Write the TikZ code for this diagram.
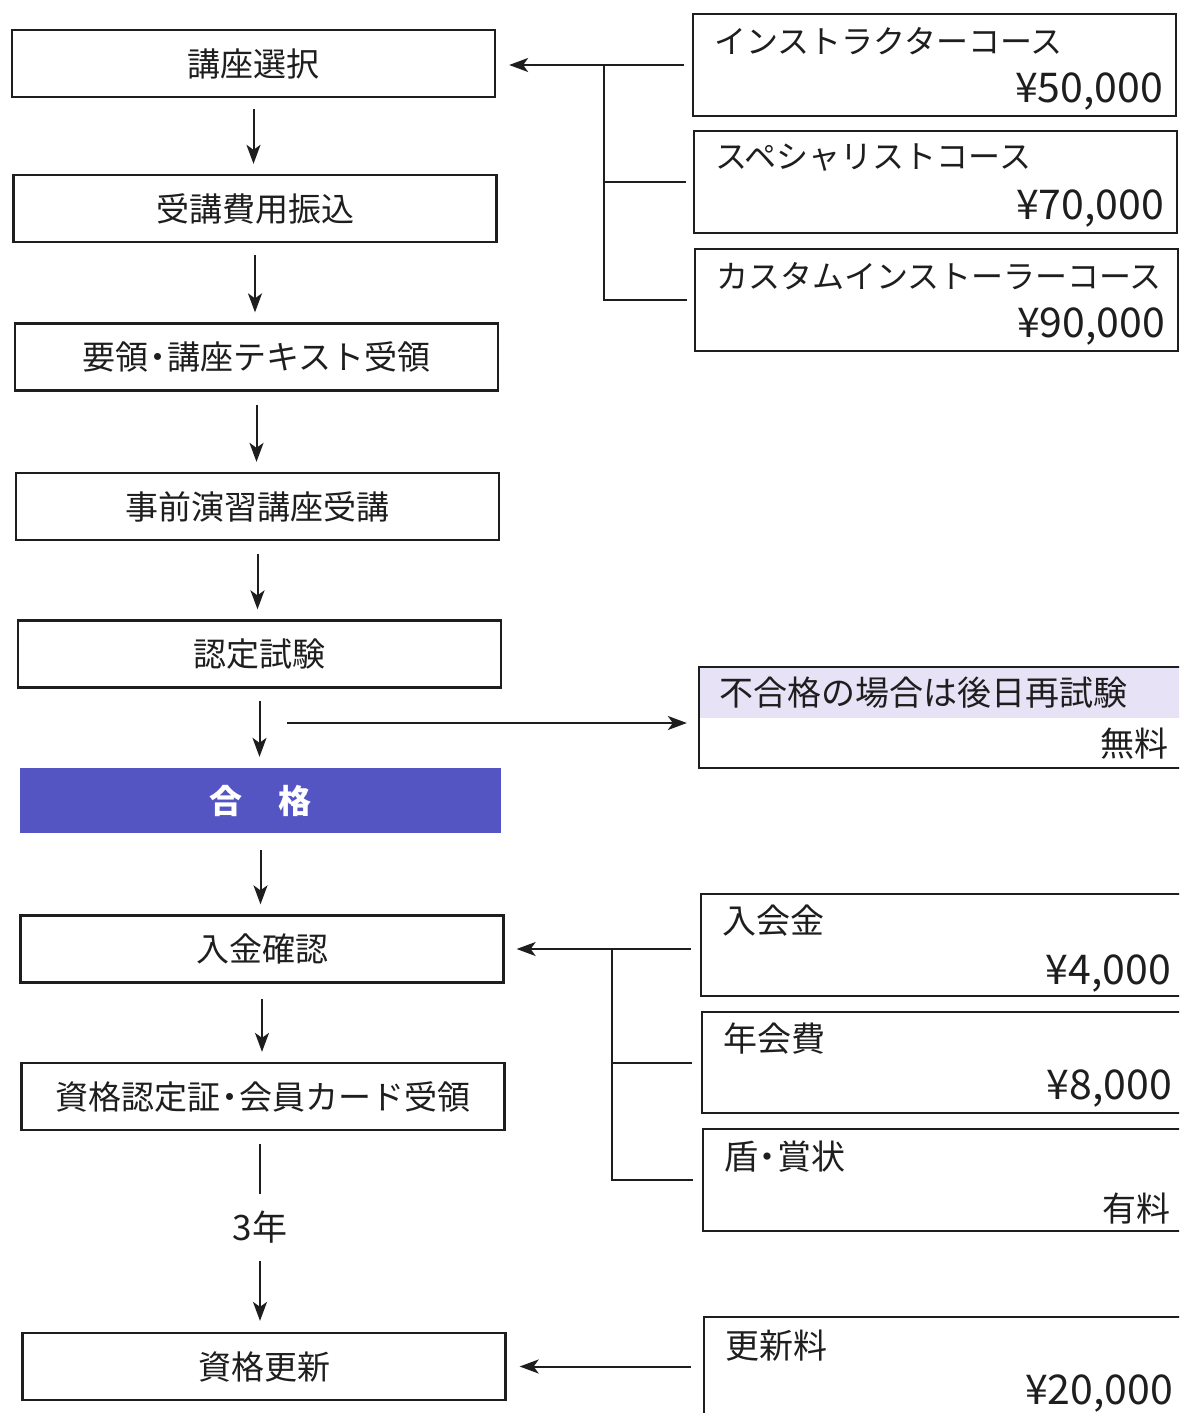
\documentclass[tikz,border=0pt]{standalone}
\usepackage{fontspec}
\newfontfamily\jp{Noto Sans CJK JP}
\usetikzlibrary{arrows.meta}
\definecolor{gokaku}{RGB}{84,84,194}
\definecolor{lav}{RGB}{232,226,246}
\definecolor{ink}{RGB}{30,30,30}
\newcommand{\ndot}{\hspace{-0.22em}・\hspace{-0.22em}}
\begin{document}
\begin{tikzpicture}[x=1pt,y=-1pt,
  lbox/.style={draw=ink, line width=2.3pt, minimum width=483pt, minimum height=67pt, inner sep=0pt, text=ink, font=\jp\fontsize{33}{38}\selectfont},
  rbox/.style={draw=ink, line width=2.3pt, minimum width=483pt, minimum height=102pt, inner sep=0pt},
  rtxt/.style={inner sep=0pt, text=ink, font=\jp\fontsize{32}{38}\selectfont},
  ktxt/.style={inner sep=0pt, text=ink, font=\jp\fontsize{34}{40}\selectfont},
  ptxt/.style={inner sep=0pt, text=ink, font=\jp\fontsize{41}{46}\selectfont},
  arr/.style={draw=ink, line width=2pt, -{Stealth[length=19pt,width=14pt,inset=5pt]}},
  ln/.style={draw=ink, line width=2pt}]
\clip (0,0) rectangle (1179,1413);
\fill[white] (0,0) rectangle (1179,1413);

% left flow
\node[lbox] (b1) at (253.5,63.5) {講座選択};
\node[lbox] (b2) at (255,208.5) {受講費用振込};
\node[lbox] (b3) at (256.5,357) {要領\ndot 講座テキスト受領};
\node[lbox] (b4) at (257.5,506.5) {事前演習講座受講};
\node[lbox] (b5) at (259.5,654) {認定試験};
\node[lbox, draw=none, fill=gokaku, text=white, minimum width=481pt, minimum height=65pt, font=\jp\bfseries\fontsize{33}{38}\selectfont] (b6) at (260.5,800.5) {合\hspace{36pt}格};
\node[lbox] (b7) at (262,949) {入金確認};
\node[lbox] (b8) at (263,1096.5) {資格認定証\ndot 会員カード受領};
\node[lbox] (b9) at (264,1366.5) {資格更新};
\node[inner sep=0pt, text=ink, font=\jp\fontsize{35}{40}\selectfont] (y3) at (260,1227) {3年};

\draw[arr] ([yshift=-11pt]b1.south) -- ([yshift=10pt]b1.south |- b2.north);
\draw[arr] ([yshift=-12pt]b2.south) -- ([yshift=10pt]b2.south |- b3.north);
\draw[arr] ([yshift=-13pt]b3.south) -- ([yshift=10pt]b3.south |- b4.north);
\draw[arr] ([yshift=-13pt]b4.south) -- ([yshift=10pt]b4.south |- b5.north);
\draw[arr] ([yshift=-12pt]b5.south) -- ([yshift=10pt]b5.south |- b6.north);
\draw[arr] ([yshift=-16pt]b6.south) -- ([yshift=10pt]b6.south |- b7.north);
\draw[arr] ([yshift=-15pt]b7.south) -- ([yshift=10pt]b7.south |- b8.north);
\draw[ln] ([yshift=-13pt]y3.north |- b8.south) -- ([yshift=17pt]y3.north);
\draw[arr] ([yshift=-18pt]y3.south) -- ([yshift=11pt]y3.south |- b9.north);

% right boxes: courses
\node[rbox] (r1) at (934.5,65) {};
\node[rbox] (r2) at (935.5,182) {};
\node[rbox] (r3) at (936.5,300) {};
\node[rtxt, anchor=west] (r1t) at ([xshift=22pt,yshift=-28pt]r1.north west) {インストラクターコース};
\node[ptxt, anchor=east] (r1p) at ([xshift=-14pt,yshift=26pt]r1.south east) {¥50,000};
\node[rtxt, anchor=west] (r2t) at ([xshift=22pt,yshift=-28pt]r2.north west) {スペシャリストコース};
\node[ptxt, anchor=east] (r2p) at ([xshift=-14pt,yshift=26pt]r2.south east) {¥70,000};
\node[rtxt, anchor=west] (r3t) at ([xshift=22pt,yshift=-28pt]r3.north west) {カスタムインストーラーコース};
\node[ptxt, anchor=east] (r3p) at ([xshift=-14pt,yshift=26pt]r3.south east) {¥90,000};

\path (r1.west) ++(-88,0) coordinate (j1);
\draw[arr] ([xshift=-8pt]r1.west) -- ([xshift=13pt]b1.east |- r1.west);
\draw[ln] ([xshift=-7pt]r2.west) -| (j1);
\draw[ln] ([xshift=-7pt]r3.west) -| (j1);

% fail box
\node[rbox, minimum width=491pt, minimum height=101pt,
  path picture={\fill[lav] (path picture bounding box.north west) rectangle ([yshift=-51pt]path picture bounding box.north east);}] (f) at (944.5,717.5) {};
\node[ktxt, anchor=west] (ft) at ([xshift=21pt,yshift=-27pt]f.north west) {不合格の場合は後日再試験};
\node[ktxt, anchor=east] (fp) at ([xshift=-22pt,yshift=26pt]f.south east) {無料};
\coordinate (fs) at (287,723);
\draw[arr] (fs) -- ([xshift=-11pt]f.west |- fs);

% fees
\node[rbox, minimum width=489pt] (r4) at (945.5,945) {};
\node[rbox, minimum width=488pt, minimum height=101pt] (r5) at (946,1062.5) {};
\node[rbox, minimum width=487pt] (r6) at (946.5,1180) {};
\node[ktxt, anchor=west] (r4t) at ([xshift=22pt,yshift=-28pt]r4.north west) {入会金};
\node[ptxt, anchor=east] (r4p) at ([xshift=-20pt,yshift=24pt]r4.south east) {¥4,000};
\node[ktxt, anchor=west] (r5t) at ([xshift=22pt,yshift=-28pt]r5.north west) {年会費};
\node[ptxt, anchor=east] (r5p) at ([xshift=-19pt,yshift=26pt]r5.south east) {¥8,000};
\node[ktxt, anchor=west] (r6t) at ([xshift=22pt,yshift=-29pt]r6.north west) {盾\ndot 賞状};
\node[ktxt, anchor=east] (r6p) at ([xshift=-20pt,yshift=24pt]r6.south east) {有料};

\coordinate (j2) at ([xshift=-88pt]r4.west |- b7.east);
\draw[arr] ([xshift=-9pt]r4.west |- b7.east) -- ([xshift=12pt]b7.east);
\draw[ln] ([xshift=-9pt]r5.west) -| (j2);
\draw[ln] ([xshift=-9pt]r6.west) -| (j2);

% renewal
\node[rbox, minimum width=486pt, minimum height=103pt] (r7) at (947,1368.5) {};
\node[ktxt, anchor=west] (r7t) at ([xshift=22pt,yshift=-30pt]r7.north west) {更新料};
\node[ptxt, anchor=east] (r7p) at ([xshift=-18pt,yshift=28pt]r7.south east) {¥20,000};
\draw[arr] ([xshift=-12pt]r7.west |- b9.east) -- ([xshift=13pt]b9.east);
\end{tikzpicture}
\end{document}
